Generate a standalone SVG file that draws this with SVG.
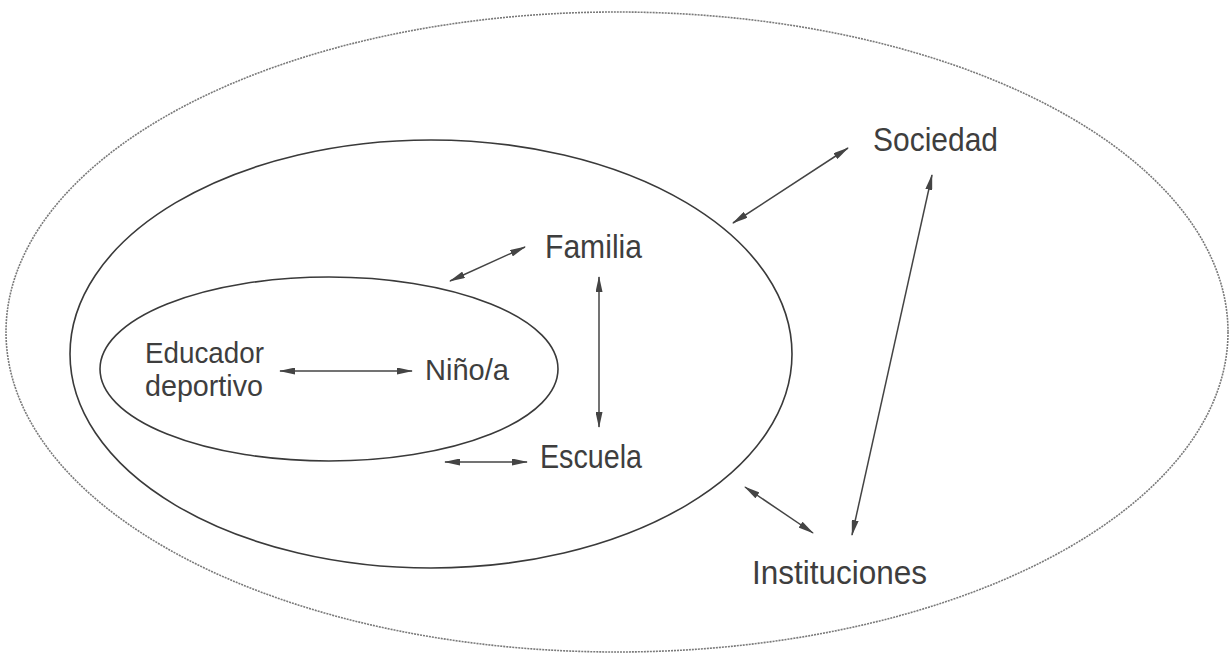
<svg xmlns="http://www.w3.org/2000/svg" width="1229" height="662" viewBox="0 0 1229 662">
<style>
.ring{fill:none;stroke:#3a3a3a;stroke-width:1.6}
.outer{fill:none;stroke:#7a7a7a;stroke-width:1.6;stroke-dasharray:2 1}
.lbl{font-family:"Liberation Sans","Open Sans",sans-serif;fill:#3e3e3e}
.sm{font-size:29px}
.lg{font-size:33px}
.arr{stroke:#444;stroke-width:1.5;fill:none;marker-start:url(#ah);marker-end:url(#ah)}
</style>
<defs>
<marker id="ah" viewBox="0 0 16 7" refX="15" refY="3.5" markerWidth="16" markerHeight="7" markerUnits="userSpaceOnUse" orient="auto-start-reverse">
<path d="M0,0 L16,3.5 L0,7 Z" fill="#444"/>
</marker>
</defs>
<rect width="1229" height="662" fill="#fff"/>
<g id="sociedad-ring"><ellipse class="outer" cx="617" cy="332" rx="611" ry="320"/></g>
<g id="familia-ring"><ellipse class="ring" cx="431" cy="354" rx="361" ry="214"/></g>
<g id="nino-ring"><ellipse class="ring" cx="329" cy="369" rx="229" ry="92"/></g>
<g id="educador"><text class="lbl sm" x="145" y="363" textLength="119" lengthAdjust="spacingAndGlyphs">Educador</text><text class="lbl sm" x="145" y="396" textLength="118" lengthAdjust="spacingAndGlyphs">deportivo</text></g>
<g id="nino"><text class="lbl sm" x="425" y="380" textLength="84" lengthAdjust="spacingAndGlyphs">Niño/a</text></g>
<g id="familia"><text class="lbl lg" x="545" y="258" textLength="97" lengthAdjust="spacingAndGlyphs">Familia</text></g>
<g id="escuela"><text class="lbl lg" x="540" y="468" textLength="102" lengthAdjust="spacingAndGlyphs">Escuela</text></g>
<g id="sociedad"><text class="lbl lg" x="873" y="151" textLength="125" lengthAdjust="spacingAndGlyphs">Sociedad</text></g>
<g id="instituciones"><text class="lbl lg" x="752" y="584" textLength="175" lengthAdjust="spacingAndGlyphs">Instituciones</text></g>
<g id="connectors">
<line class="arr" x1="280" y1="371" x2="412" y2="371"/>
<line class="arr" x1="450" y1="281" x2="525" y2="247"/>
<line class="arr" x1="599" y1="277" x2="599" y2="427"/>
<line class="arr" x1="445" y1="462" x2="527" y2="462"/>
<line class="arr" x1="733" y1="223" x2="848" y2="148"/>
<line class="arr" x1="932" y1="175" x2="852" y2="535"/>
<line class="arr" x1="745" y1="487" x2="813" y2="533"/>
</g>
</svg>
